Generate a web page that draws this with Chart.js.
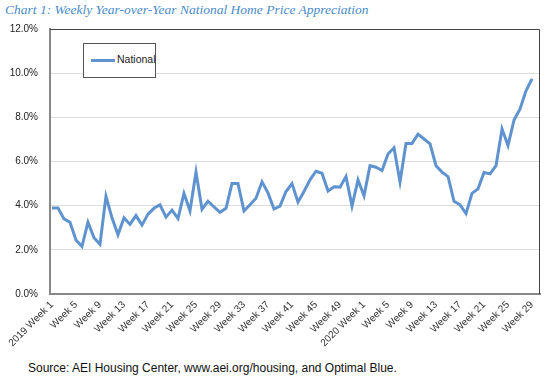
<!DOCTYPE html>
<html>
<head>
<meta charset="utf-8">
<script src="https://cdn.jsdelivr.net/npm/chart.js@4.4.0/dist/chart.umd.min.js"></script>
<style>
  body { margin: 0; background: #fff; }
  #wrap { position: relative; width: 554px; height: 389px; overflow: hidden; }
  .title { position: absolute; left: 5px; top: 2px; font-family: "Liberation Serif", serif; font-style: italic; font-size: 13.5px; color: #4a8bc9; white-space: nowrap; }
  .chartbox { position: absolute; left: 0; top: 11px; width: 554px; height: 344px; }
  .legend { position: absolute; left: 83px; top: 43px; width: 71px; height: 33px; border: 1px solid #555; background: #fff; font-family: "Liberation Sans", sans-serif; font-size: 10.5px; color: #222; }
  .legend .swatch { position: absolute; left: 7px; top: 15px; width: 24px; height: 3px; background: #5f93d0; }
  .legend .txt { position: absolute; left: 33px; top: 9px; }
  .source { position: absolute; left: 28px; top: 361px; font-family: "Liberation Sans", sans-serif; font-size: 12px; color: #111; white-space: nowrap; }
</style>
</head>
<body>
<div id="wrap">
  <div class="title">Chart 1: Weekly Year-over-Year National Home Price Appreciation</div>
  <div class="chartbox"><canvas id="myChart" width="554" height="344"></canvas></div>
  <div class="legend"><div class="swatch"></div><div class="txt">National</div></div>
  <div class="source">Source: AEI Housing Center, www.aei.org/housing, and Optimal Blue.</div>
</div>
<script>
// 2019 Week 1..52, then 2020 Week 1..29
var weeks = [];
for (var w = 1; w <= 52; w++) weeks.push((w == 1 ? '2019 ' : '') + 'Week ' + w);
for (var w2 = 1; w2 <= 29; w2++) weeks.push((w2 == 1 ? '2020 ' : '') + 'Week ' + w2);

var national = [
  3.9, 3.9, 3.4, 3.25, 2.45, 2.15, 3.25, 2.55, 2.25, 4.42,
  3.45, 2.68, 3.45, 3.15, 3.55, 3.12, 3.62, 3.88, 4.04, 3.48,
  3.8, 3.42, 4.56, 3.76, 5.52, 3.84, 4.2, 3.94, 3.7, 3.88,
  5.0, 5.0, 3.76, 4.04, 4.34, 5.08, 4.58, 3.85, 3.98, 4.64,
  5.0, 4.16, 4.64, 5.17, 5.56, 5.47, 4.66, 4.86, 4.84, 5.32,
  3.98, 5.17, 4.45, 5.81, 5.74, 5.59, 6.34, 6.62, 5.08, 6.82,
  6.82, 7.24, 7.02, 6.8, 5.81, 5.52, 5.32, 4.2, 4.04, 3.64,
  4.56, 4.76, 5.5, 5.44, 5.81, 7.47, 6.72, 7.88, 8.38, 9.2,
  9.74
];

var tickIdx = [0, 4, 8, 12, 16, 20, 24, 28, 32, 36, 40, 44, 48, 52, 56, 60, 64, 68, 72, 76, 80];
var tickLabels = ['2019 Week 1', 'Week 5', 'Week 9', 'Week 13', 'Week 17', 'Week 21', 'Week 25',
  'Week 29', 'Week 33', 'Week 37', 'Week 41', 'Week 45', 'Week 49', '2020 Week 1', 'Week 5',
  'Week 9', 'Week 13', 'Week 17', 'Week 21', 'Week 25', 'Week 29'];
var yTicks = [0, 2, 4, 6, 8, 10, 12];

var points = national.map(function (v, i) { return { x: i, y: v, week: weeks[i] }; });

// top and right border of the plot frame
var frame = {
  id: 'frame',
  afterDraw: function (chart) {
    var a = chart.chartArea, c = chart.ctx;
    c.save();
    c.strokeStyle = '#444';
    c.lineWidth = 1;
    c.beginPath();
    c.moveTo(a.left, a.top + 0.5);
    c.lineTo(a.right - 0.5, a.top + 0.5);
    c.lineTo(a.right - 0.5, a.bottom);
    c.stroke();
    c.restore();
  }
};

var ctx = document.getElementById('myChart').getContext('2d');
var myChart = new Chart(ctx, {
  type: 'line',
  data: {
    datasets: [{
      label: 'National',
      data: points,
      borderColor: '#5f93d0',
      borderWidth: 3,
      pointRadius: 0,
      tension: 0,
      fill: false
    }]
  },
  options: {
    responsive: false,
    animation: false,
    layout: { padding: { top: 0, right: 14, left: 0, bottom: 0 } },
    plugins: { legend: { display: false }, tooltip: { enabled: false } },
    scales: {
      x: {
        type: 'linear',
        min: -0.33,
        max: 81.33,
        afterFit: function (s) { s.height = 61; },
        afterBuildTicks: function (s) { s.ticks = tickIdx.map(function (v) { return { value: v }; }); },
        grid: { display: false, drawTicks: false },
        border: { color: '#888', width: 2 },
        ticks: {
          autoSkip: false,
          maxRotation: 45,
          minRotation: 45,
          padding: 5,
          color: '#333',
          font: { family: 'Liberation Sans', size: 10 },
          callback: function (v) { var k = tickIdx.indexOf(v); return k >= 0 ? tickLabels[k] : ''; }
        }
      },
      y: {
        min: 0,
        max: 12,
        afterFit: function (s) { s.width = 50; },
        afterBuildTicks: function (s) { s.ticks = yTicks.map(function (v) { return { value: v }; }); },
        grid: { color: '#dcdcdc', lineWidth: 1, drawTicks: false },
        border: { color: '#888', width: 2 },
        ticks: {
          padding: 12,
          color: '#222',
          font: { family: 'Liberation Sans', size: 10 },
          callback: function (v) { return v.toFixed(1) + '%'; }
        }
      }
    }
  },
  plugins: [frame]
});
</script>
</body>
</html>
